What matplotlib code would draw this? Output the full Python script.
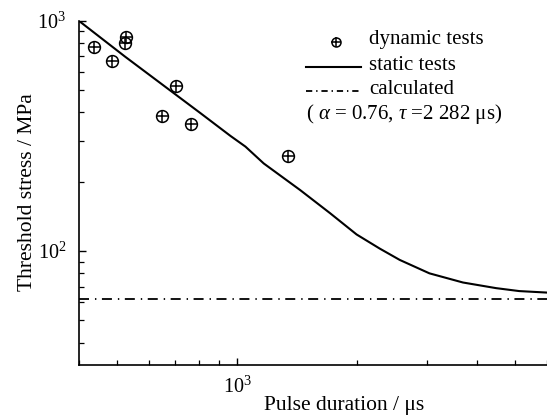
import matplotlib
matplotlib.use("Agg")
import matplotlib.pyplot as plt
from matplotlib.ticker import LogLocator, NullFormatter

plt.rcParams['font.family'] = ['Liberation Serif', 'DejaVu Serif']
plt.rcParams['mathtext.fontset'] = 'custom'
plt.rcParams['mathtext.rm'] = 'Liberation Serif'
plt.rcParams['mathtext.it'] = 'Liberation Serif:italic'
plt.rcParams['mathtext.bf'] = 'Liberation Serif:bold'
plt.rcParams['lines.scale_dashes'] = False

# Data
dyn_x = [438, 485, 523, 526, 703, 646, 767, 1339]
dyn_y = [771, 668, 798, 847, 519, 387, 357, 259]

static_x = [400, 523, 810, 962, 1049, 1166, 1439, 1711, 1995, 2280, 2560, 3040,
            3690, 4470, 5110, 6000]
static_y = [1000, 698, 396, 316, 284, 240, 184, 146, 118, 102.5, 91.5, 80,
            73, 69, 67, 66]

calc_y = 61.7
x_range = [400, 6000]
y_range = [32, 1000]

labels = ["dynamic tests", "static tests", "calculated"]
param_text = r"( $\alpha$ = 0.76, $\tau$ =2 282 μs)"

fig = plt.figure(figsize=(5.47, 4.17), dpi=100)
ax = fig.add_axes([0.1439, 0.1247, 1.0 - 0.1439, 0.9504 - 0.1247])

dashdot = (7.2, 4.3, 1.0, 4.0)

ax.plot(static_x, static_y, color='black', lw=1.5)
ax.plot(x_range, [calc_y, calc_y], color='black', lw=1.3, dashes=dashdot)
ax.plot(dyn_x, dyn_y, linestyle='none', marker='o', ms=8.5, mfc='none',
        mec='black', mew=1.1)
ax.plot(dyn_x, dyn_y, linestyle='none', marker='+', ms=8.5, mec='black', mew=1.1)

ax.set_xscale('log')
ax.set_yscale('log')
ax.set_xlim(x_range)
ax.set_ylim(y_range)

ax.spines['top'].set_visible(False)
ax.spines['right'].set_visible(False)
for s in ('left', 'bottom'):
    ax.spines[s].set_linewidth(1.2)

ax.tick_params(which='both', direction='in', top=False, right=False)
ax.tick_params(which='major', length=5, width=1.0, labelsize=14.5)
ax.tick_params(axis='x', which='major', pad=8)
ax.tick_params(axis='y', which='major', pad=9)
ax.tick_params(which='minor', length=3.5, width=0.9)
ax.xaxis.set_minor_locator(LogLocator(base=10, subs=range(2, 10), numticks=20))
ax.yaxis.set_minor_locator(LogLocator(base=10, subs=range(2, 10), numticks=20))
ax.xaxis.set_minor_formatter(NullFormatter())
ax.yaxis.set_minor_formatter(NullFormatter())

ax.set_xlabel("Pulse duration / μs", fontsize=15.5)
ax.set_ylabel("Threshold stress / MPa", fontsize=15.5)
ax.xaxis.label.set_va('center')
ax.yaxis.label.set_va('center')
ax.xaxis.set_label_coords(0.5665, -0.119)
ax.yaxis.set_label_coords(-0.1100, 0.5025)

# Legend (manual, axes coordinates)
T = ax.transAxes
ax.plot([0.5494], [0.939], transform=T, marker='o', ms=6.5, mfc='none', mec='black',
        mew=1.1, linestyle='none', clip_on=False)
ax.plot([0.5494], [0.939], transform=T, marker='+', ms=6.5, mec='black',
        mew=1.1, linestyle='none', clip_on=False)
ax.plot([0.4855, 0.6028], [0.8664, 0.8664], transform=T, color='black', lw=1.5,
        clip_on=False)
ax.plot([0.4855, 0.6028], [0.7958, 0.7958], transform=T, color='black', lw=1.3,
        dashes=(4.5, 2.8, 1.0, 2.8), clip_on=False)
ax.text(0.6205, 0.944, labels[0], transform=T, fontsize=15, va='center', ha='left')
ax.text(0.6205, 0.869, labels[1], transform=T, fontsize=15, va='center', ha='left')
ax.text(0.6205, 0.799, labels[2], transform=T, fontsize=15, va='center', ha='left')
ax.text(0.4855, 0.730, param_text, transform=T, fontsize=15, va='center', ha='left')

fig.savefig("out.png", dpi=100)
